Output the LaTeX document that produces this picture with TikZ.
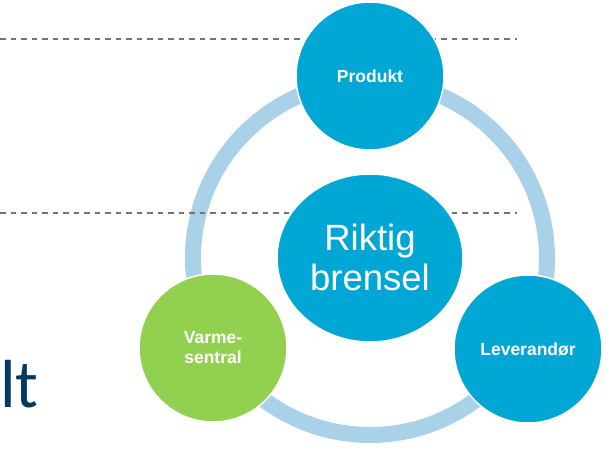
\documentclass[tikz,border=0pt]{standalone}
\usepackage{fontspec}
\setmainfont{Liberation Sans}
\newfontfamily\carlitofont{Carlito}
\usetikzlibrary{shapes.geometric}
\definecolor{cblue}{HTML}{00A6D4}
\definecolor{cgreen}{HTML}{92D050}
\definecolor{cring}{HTML}{A9D1E7}
\definecolor{cdash}{HTML}{77736E}
\definecolor{cnavy}{HTML}{003A63}
\begin{document}
\begin{tikzpicture}[x=1pt,y=-1pt,
  dashline/.style={cdash, line width=1.3pt, dash pattern=on 5.5pt off 5pt},
  ringstyle/.style={circle, draw=cring, line width=16pt, minimum size=354pt, inner sep=0pt},
  bubble/.style={circle, draw=white, line width=1.5pt, fill=cblue, text=white,
    font=\bfseries\fontsize{17.5}{20}\selectfont, align=center, inner sep=0pt, minimum size=148pt},
  bigtext/.style={text=white, font=\fontsize{36.5}{40}\selectfont, align=center, inner sep=0pt}
]
\useasboundingbox (0,0) rectangle (611,462);
% dashed guide lines
\coordinate (d1a) at (0,39);
\coordinate (d1b) at (517,39);
\coordinate (d2a) at (0,213);
\coordinate (d2b) at (517,213);
% ring
\node[ringstyle] (ring) at (370,258) {};
\draw[dashline] (d1a) -- (d1b);
\draw[dashline] (d2a) -- (d2b);
% centre
\node[ellipse, draw=white, line width=1.5pt, fill=cblue, minimum width=186pt, minimum height=168pt, inner sep=0pt] (centre) at (370,258) {};
\node[bigtext] (centretext) at (370,257) {Riktig\\brensel};
% outer bubbles
\node[bubble] (produkt) at (370,76) {Produkt};
\node[bubble, fill=cgreen] (varme) at (213,348) {Varme-\\sentral};
\node[bubble] (lever) at (528,349) {Leverandør};
% partial title text
\node[anchor=base west, inner sep=0pt, text=cnavy, font=\carlitofont\fontsize{68}{68}\selectfont] (lt) at (0,408) {lt};
\end{tikzpicture}
\end{document}
